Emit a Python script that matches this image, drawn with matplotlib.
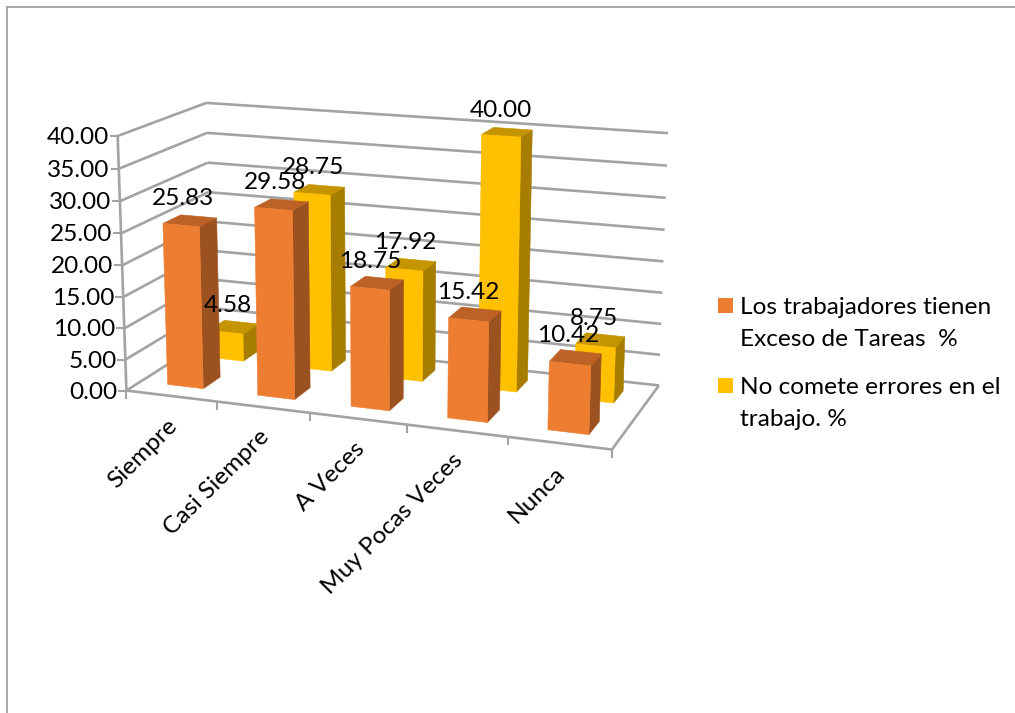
import numpy as np
import matplotlib
matplotlib.use("Agg")
import matplotlib.pyplot as plt
from matplotlib.patches import Polygon, Rectangle

categories = ["Siempre", "Casi Siempre", "A Veces", "Muy Pocas Veces", "Nunca"]
exceso_tareas = [25.83, 29.58, 18.75, 15.42, 10.42]
no_errores = [4.58, 28.75, 17.92, 40.00, 8.75]
y_ticks = [0, 5, 10, 15, 20, 25, 30, 35, 40]

legend_orange = ["Los trabajadores tienen", "Exceso de Tareas  %"]
legend_yellow = ["No comete errores en el", "trabajo. %"]

plt.rcParams['font.family'] = ['Lato', 'DejaVu Sans']
FS = 17.6
GRID = "#a3a3a3"

# box corners on screen: (category, depth, value) -> pixel
corners_3d = [(0, 0, 40), (0, 0, 0), (5, 0, 0), (5, 1, 0), (5, 1, 40), (0, 1, 40), (0, 1, 0)]
corners_px = [(117, 136), (127, 391), (612, 449), (659, 386), (668, 133), (207, 103), (211, 336)]


def fit_camera(pts3, pts2):
    rows = []
    for (x, y, z), (u, v) in zip(pts3, pts2):
        rows.append([x, y, z, 1, 0, 0, 0, 0, -u * x, -u * y, -u * z, -u])
        rows.append([0, 0, 0, 0, x, y, z, 1, -v * x, -v * y, -v * z, -v])
    return np.linalg.svd(np.array(rows, dtype=float))[2][-1].reshape(3, 4)


camera = fit_camera(corners_3d, corners_px)


def proj(x, y, z):
    p = camera @ np.array([x, y, z, 1.0])
    return p[0] / p[2], p[1] / p[2]


def box_line(ax, a, b, lw=1.9, color=GRID):
    pa, pb = proj(*a), proj(*b)
    ax.plot([pa[0], pb[0]], [pa[1], pb[1]], color=color, lw=lw, solid_capstyle="butt", zorder=1)


def draw_bar(ax, i, y0, y1, val, front, side, top, z):
    x0, x1 = i + 0.3, i + 0.7
    faces = [
        ([(x1, y0, 0), (x1, y1, 0), (x1, y1, val), (x1, y0, val)], side),
        ([(x0, y0, val), (x1, y0, val), (x1, y1, val), (x0, y1, val)], top),
        ([(x0, y0, 0), (x1, y0, 0), (x1, y0, val), (x0, y0, val)], front),
    ]
    for pts, c in faces:
        ax.add_patch(Polygon([proj(*p) for p in pts], closed=True, fc=c, ec=c, lw=0.4, zorder=z))


fig = plt.figure(figsize=(10.15, 7.13), dpi=100)
ax = fig.add_axes([0, 0, 1, 1])
ax.set_xlim(0, 1015)
ax.set_ylim(713, 0)
ax.axis("off")

# outer frame, only top and left show
ax.plot([7, 7], [713, 7], color="#a0a0a0", lw=1.3)
ax.plot([7, 1015], [7, 7], color="#a0a0a0", lw=1.3)

# walls
for v in y_ticks:
    box_line(ax, (0, 0, v), (0, 1, v))
    box_line(ax, (0, 1, v), (5, 1, v))
    px, py = proj(0, 0, v)
    ax.plot([px - 7, px], [py, py], color=GRID, lw=1.5, zorder=1)
    ax.text(px - 9, py + 1.5, "%.2f" % v, ha="right", va="center", fontsize=FS, color="black")

# floor and value axis
box_line(ax, (0, 0, 0), (0, 0, 40))
box_line(ax, (0, 0, 0), (5, 0, 0))
box_line(ax, (5, 0, 0), (5, 1, 0))
for i in range(6):
    px, py = proj(i, 0, 0)
    ax.plot([px, px], [py, py + 7], color=GRID, lw=1.5, zorder=1)

# back row first so the front row overlaps it
for i, v in enumerate(no_errores):
    draw_bar(ax, i, 0.65, 0.85, v, "#ffc000", "#a67d00", "#c49500", 3)
for i, v in enumerate(exceso_tareas):
    draw_bar(ax, i, 0.16, 0.36, v, "#ed7d31", "#9c5220", "#bc6226", 4)

for i, v in enumerate(no_errores):
    px, py = proj(i + 0.5, 0.75, v)
    ax.text(px - 6, py - 22, "%.2f" % v, ha="center", va="center", fontsize=FS, color="black", zorder=6)
for i, v in enumerate(exceso_tareas):
    px, py = proj(i + 0.5, 0.26, v)
    ax.text(px - 7, py - 22, "%.2f" % v, ha="center", va="center", fontsize=FS, color="black", zorder=6)

for i, name in enumerate(categories):
    px, py = proj(i + 0.5, 0, 0)
    ax.text(px - 5, py + 19, name, rotation=45, rotation_mode="anchor", ha="right", va="top",
            fontsize=FS, color="black")

# legend
ax.add_patch(Rectangle((718, 298), 15, 15, fc="#ed7d31", ec="none"))
ax.add_patch(Rectangle((718, 378), 15, 15, fc="#ffc000", ec="none"))
for k, line in enumerate(legend_orange):
    ax.text(740, 307 + 32 * k, line, ha="left", va="center", fontsize=FS, color="black")
for k, line in enumerate(legend_yellow):
    ax.text(740, 387 + 32 * k, line, ha="left", va="center", fontsize=FS, color="black")

fig.savefig("out.png", dpi=100)
